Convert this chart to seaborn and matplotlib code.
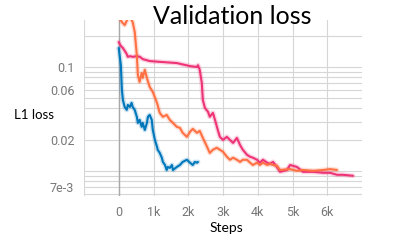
import numpy as np
import pandas as pd
import matplotlib
matplotlib.use("Agg")
import matplotlib.pyplot as plt
import seaborn as sns
from matplotlib.ticker import FixedLocator, NullFormatter, NullLocator

# values (TensorBoard style validation curves)
blue_steps = [0, 60, 90, 120, 170, 230, 260, 320, 370, 400, 460, 520, 550, 600, 660,
              690, 750, 810, 840, 890, 950, 980, 1040, 1100, 1120, 1180, 1240, 1270,
              1330, 1380, 1410, 1470, 1530, 1560, 1670, 1760, 1840, 1960, 2050, 2130,
              2190, 2250, 2280]
blue_loss = [0.152, 0.104, 0.0603, 0.0483, 0.0414, 0.0388, 0.0433, 0.0414, 0.0453,
             0.0414, 0.0388, 0.0333, 0.0291, 0.0311, 0.0267, 0.0291, 0.0249, 0.0291,
             0.0333, 0.0347, 0.0311, 0.0249, 0.0200, 0.0172, 0.0161, 0.0150, 0.0135,
             0.0123, 0.0115, 0.0103, 0.0110, 0.0108, 0.0115, 0.0103, 0.0110, 0.0115,
             0.0123, 0.0129, 0.0121, 0.0115, 0.0123, 0.0121, 0.0123]

orange_steps = [0, 90, 170, 260, 320, 400, 460, 520, 550, 600, 660, 690, 750, 810, 890,
                980, 1100, 1180, 1270, 1380, 1470, 1560, 1670, 1760, 1840, 1960, 2050,
                2130, 2250, 2330, 2420, 2540, 2620, 2710, 2820, 2910, 3000, 3110, 3200,
                3290, 3400, 3490, 3570, 3690, 3780, 3860, 3980, 4060, 4150, 4270, 4350,
                4440, 4550, 4640, 4930, 5130, 5300, 5590, 5880, 6080, 6280]
orange_loss = [0.30, 0.27, 0.252, 0.29, 0.30, 0.27, 0.216, 0.130, 0.0838, 0.0718,
               0.0877, 0.0785, 0.094, 0.0785, 0.0644, 0.0577, 0.0453, 0.0363, 0.0333,
               0.0347, 0.0311, 0.0291, 0.0267, 0.0261, 0.0234, 0.0214, 0.0239, 0.0255,
               0.0234, 0.0244, 0.0209, 0.0172, 0.0150, 0.0161, 0.0168, 0.0161, 0.0154,
               0.0138, 0.0129, 0.0135, 0.0129, 0.0123, 0.0129, 0.0129, 0.0121, 0.0115,
               0.0121, 0.0115, 0.0121, 0.0115, 0.0118, 0.0115, 0.0113, 0.0103, 0.0105,
               0.0101, 0.0103, 0.0101, 0.0103, 0.0105, 0.0103]

pink_steps = [0, 60, 120, 230, 260, 320, 400, 520, 610, 690, 890, 1180, 1670, 2050,
              2250, 2280, 2330, 2390, 2420, 2480, 2570, 2620, 2710, 2770, 2850, 2910,
              3000, 3110, 3200, 3290, 3400, 3490, 3570, 3690, 3780, 3860, 3980, 4060,
              4150, 4270, 4350, 4440, 4550, 4640, 4840, 4930, 5130, 5300, 5590, 5880,
              6080, 6280, 6460, 6740]
pink_loss = [0.173, 0.159, 0.152, 0.133, 0.125, 0.127, 0.125, 0.127, 0.125, 0.119,
             0.114, 0.112, 0.109, 0.102, 0.100, 0.104, 0.094, 0.0703, 0.0483, 0.0405,
             0.0371, 0.0333, 0.0363, 0.0311, 0.0249, 0.0214, 0.0200, 0.0214, 0.0200,
             0.0187, 0.0209, 0.0179, 0.0161, 0.0144, 0.0138, 0.0135, 0.0129, 0.0121,
             0.0129, 0.0121, 0.0118, 0.0123, 0.0110, 0.00989, 0.0103, 0.0115, 0.0110,
             0.00989, 0.00989, 0.00968, 0.00968, 0.00926, 0.00926, 0.00906]

runs = ["pink", "orange", "blue"]
colors = {"blue": "#0077bb", "orange": "#ff7043", "pink": "#ee3377"}

x_ticks = [-1000, 0, 1000, 2000, 3000, 4000, 5000, 6000]
x_labels = ["", "0", "1k", "2k", "3k", "4k", "5k", "6k"]
y_ticks = [0.1, 0.06, 0.02, 0.007]
y_labels = ["0.1", "0.06", "0.02", "7e-3"]
y_grid = [0.2, 0.1, 0.09, 0.08, 0.07, 0.06, 0.05, 0.04, 0.03, 0.02,
          0.01, 0.009, 0.008, 0.007, 0.006]

df = pd.concat([
    pd.DataFrame({"step": blue_steps, "loss": blue_loss, "run": "blue"}),
    pd.DataFrame({"step": orange_steps, "loss": orange_loss, "run": "orange"}),
    pd.DataFrame({"step": pink_steps, "loss": pink_loss, "run": "pink"}),
])

sns.set_style("white")
plt.rcParams["font.family"] = ["Roboto", "DejaVu Sans"]

fig = plt.figure(figsize=(3.96, 2.4), dpi=100)
ax = fig.add_axes([84 / 396, 1 - 196 / 240, 278 / 396, 176 / 240])

ax.set_yscale("log")
ax.set_xlim(-1000, 7000)
ax.set_ylim(0.0058, 0.282)

# light grid like TensorBoard
for g in y_grid:
    ax.axhline(g, color="#d6d6d6", lw=0.8, zorder=0)
for t in x_ticks:
    ax.axvline(t, color="#d6d6d6", lw=0.8, zorder=0)
ax.axvline(0, color="#a8a8a8", lw=1.0, zorder=0.5)

# faint "raw" band and smoothed line
sns.lineplot(data=df, x="step", y="loss", hue="run", hue_order=runs, palette=colors,
             lw=3.5, alpha=0.22, legend=False, ax=ax, estimator=None, sort=False)
sns.lineplot(data=df, x="step", y="loss", hue="run", hue_order=runs, palette=colors,
             lw=1.5, legend=False, ax=ax, estimator=None, sort=False)

ax.xaxis.set_major_locator(FixedLocator(x_ticks))
ax.set_xticklabels(x_labels)
ax.yaxis.set_major_locator(FixedLocator(y_ticks))
ax.yaxis.set_minor_locator(NullLocator())
ax.yaxis.set_minor_formatter(NullFormatter())
ax.set_yticklabels(y_labels)
ax.tick_params(axis="both", length=4, width=0.8, color="#d6d6d6",
               labelcolor="#777777", labelsize=9, pad=3)
ax.set_xlabel("")
ax.set_ylabel("")
for s in ax.spines.values():
    s.set_visible(False)

fig.text(232 / 396, 1 - 16 / 240, "Validation loss", ha="center", va="center",
         fontsize=18, family=["Lato", "DejaVu Sans"], color="black")
fig.text(34 / 396, 1 - 115 / 240, "L1 loss", ha="center", va="center",
         fontsize=9.5, family=["Lato", "DejaVu Sans"], color="black")
fig.text(226 / 396, 1 - 228 / 240, "Steps", ha="center", va="center",
         fontsize=10, family=["Lato", "DejaVu Sans"], color="black")

fig.savefig("out.png", dpi=100)
